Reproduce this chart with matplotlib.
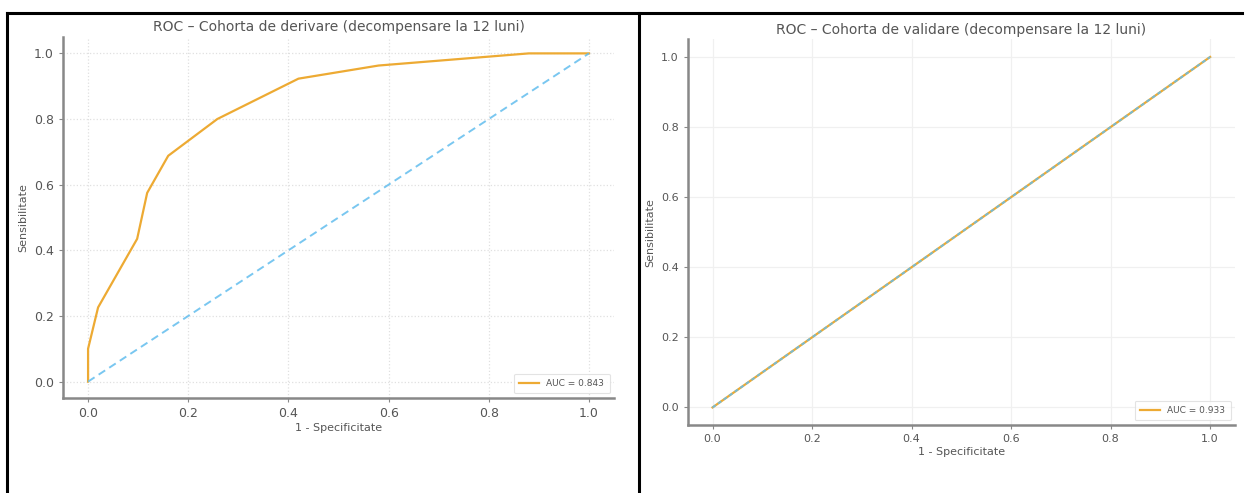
import matplotlib
matplotlib.use("Agg")
import matplotlib.pyplot as plt
from matplotlib.lines import Line2D

# Data
deriv_fpr = [0.0, 0.0, 0.02, 0.098, 0.118, 0.16, 0.258, 0.42, 0.58, 0.88, 1.0]
deriv_tpr = [0.0, 0.10, 0.226, 0.435, 0.575, 0.688, 0.80, 0.923, 0.963, 1.0, 1.0]
deriv_auc = 0.843
valid_fpr = [0.0, 1.0]
valid_tpr = [0.0, 1.0]
valid_auc = 0.933
chance = [0.0, 1.0]
ticks = [0.0, 0.2, 0.4, 0.6, 0.8, 1.0]
titles = ["ROC – Cohorta de derivare (decompensare la 12 luni)",
          "ROC – Cohorta de validare (decompensare la 12 luni)"]

ORANGE = "#EDAA33"
BLUE = "#62BDEE"
GRAY = "#555555"

fig = plt.figure(figsize=(12.48, 4.93), dpi=100)
ax1 = fig.add_axes([0.0505, 0.1927, 0.4415, 0.7323])
ax2 = fig.add_axes([0.551, 0.138, 0.4386, 0.782])

def style(ax, fpr, tpr, auc, title, tsize, lsize, ticksize, gridls, gridc, chance_dash):
    ax.plot(fpr, tpr, color=ORANGE, lw=1.6, label=f"AUC = {auc:.3f}")
    ax.plot(chance, chance, color=BLUE, lw=1.4, ls=chance_dash, alpha=0.85)
    ax.set_xlim(-0.05, 1.05)
    ax.set_ylim(-0.05, 1.05)
    ax.set_xticks(ticks)
    ax.set_yticks(ticks)
    ax.grid(True, color=gridc, ls=gridls, lw=0.9)
    for s in ["top", "right"]:
        ax.spines[s].set_visible(False)
    for s in ["left", "bottom"]:
        ax.spines[s].set_color("#888888")
        ax.spines[s].set_linewidth(1.8)
    ax.tick_params(colors="#888888", labelcolor=GRAY, labelsize=ticksize, length=3, width=0.8)
    ax.set_title(title, color=GRAY, fontsize=tsize, pad=4)
    ax.set_xlabel("1 - Specificitate", color=GRAY, fontsize=lsize, labelpad=2)
    ax.set_ylabel("Sensibilitate", color=GRAY, fontsize=lsize, labelpad=4)
    leg = ax.legend(loc="lower right", fontsize=6.5, frameon=True, fancybox=True,
                    handlelength=2.2, borderpad=0.6)
    leg.get_frame().set_edgecolor("#dddddd")
    leg.get_frame().set_linewidth(0.8)
    for t in leg.get_texts():
        t.set_color(GRAY)

style(ax1, deriv_fpr, deriv_tpr, deriv_auc, titles[0], 10, 8, 9, ":", "#e0e0e0", (0, (4, 2.5)))
style(ax2, valid_fpr, valid_tpr, valid_auc, titles[1], 10, 8, 8, "-", "#f0f0f0", (0, (2, 1.5)))

# table borders
for (x0, y0, x1, y1) in [(0.0056, 1 - 12.5 / 493, 0.9952, 1 - 12.5 / 493),
                         (0.0060, 1 - 12.5 / 493, 0.0060, 0.0),
                         (0.5120, 1 - 12.5 / 493, 0.5120, 0.0)]:
    fig.add_artist(Line2D([x0, x1], [y0, y1], color="black", lw=2.2,
                          transform=fig.transFigure))

fig.savefig("out.png", dpi=100)
